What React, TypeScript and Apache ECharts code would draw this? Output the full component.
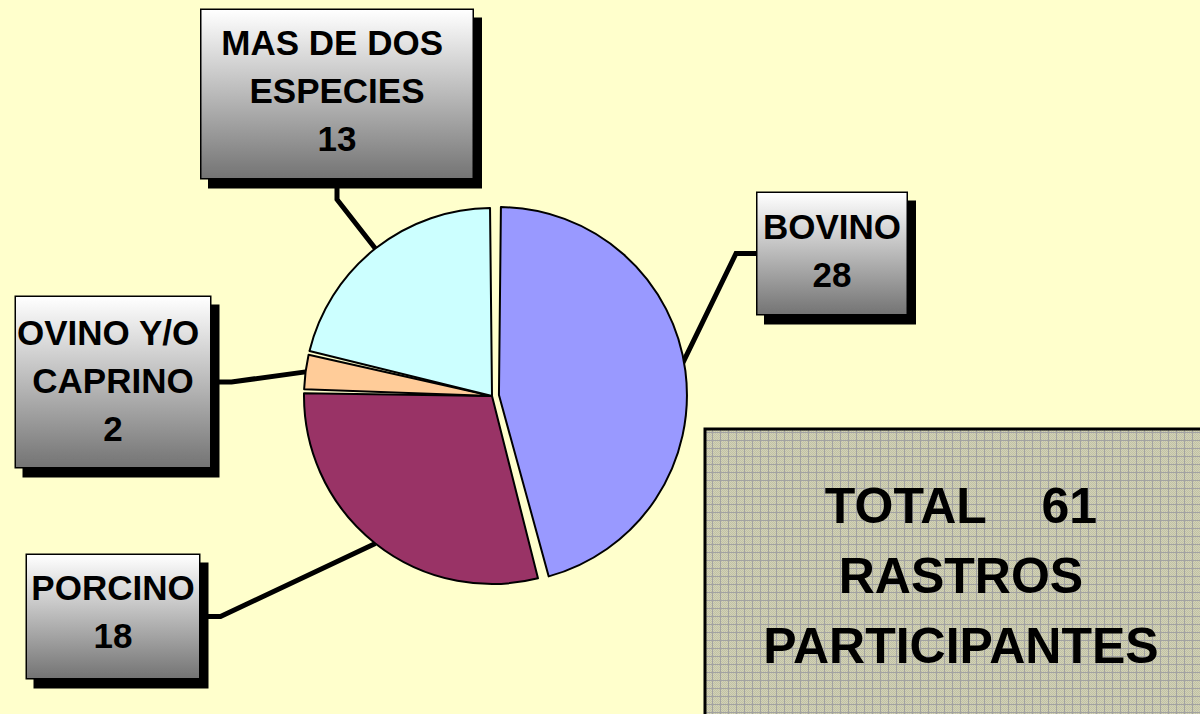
import React, { useEffect, useRef } from 'react';
import * as echarts from 'echarts';

const categories = ['BOVINO', 'PORCINO', 'OVINO Y/O CAPRINO', 'MAS DE DOS ESPECIES'];
const values = [28, 18, 2, 13];
const colors = ['#9999FF', '#993366', '#FFCC99', '#CCFFFF'];
const totalLines = ['TOTAL    {n}', 'RASTROS', 'PARTICIPANTES'];
const explodedIndex = 0;

// label box placement (center x, top y, box width, padding top / bottom)
const labelBoxes = [
  { cx: 832, top: 193, w: 149, pt: 9, pb: 16 },
  { cx: 113, top: 555, w: 172, pt: 8, pb: 19 },
  { cx: 113, top: 297, w: 194, pt: 11, pb: 15 },
  { cx: 337, top: 10, w: 271, pt: 8, pb: 16 },
];

const FONT = '"Liberation Sans", Arial, sans-serif';
const CENTER = [492, 396];
const RADIUS = 188;
const EXPLODE = 7;

function makePattern(): HTMLCanvasElement {
  const c = document.createElement('canvas');
  c.width = 8;
  c.height = 8;
  const ctx = c.getContext('2d')!;
  ctx.fillStyle = '#D2D2B6';
  ctx.fillRect(0, 0, 8, 8);
  for (let y = 0; y < 8; y++) {
    for (let x = 0; x < 8; x++) {
      if ((x + y) % 2 === 0) {
        ctx.fillStyle = '#C2C2A6';
        ctx.fillRect(x, y, 1, 1);
      }
    }
  }
  ctx.fillStyle = '#A2A2A2';
  ctx.fillRect(0, 0, 8, 1);
  ctx.fillRect(0, 0, 1, 8);
  return c;
}

export default function App() {
  const ref = useRef<HTMLDivElement>(null);
  useEffect(() => {
    document.body.style.margin = '0';
    const chart = echarts.init(ref.current!, null, { renderer: 'svg' });
    const gradient = new echarts.graphic.LinearGradient(0, 0, 0, 1, [
      { offset: 0, color: '#FFFFFF' },
      { offset: 1, color: '#747474' },
    ]);
    const total = values.reduce((a, b) => a + b, 0);
    const totalText = [totalLines[0].replace('{n}', String(total)), totalLines[1], totalLines[2]].join('\n');

    // mid-angle of the exploded slice (degrees clockwise from 12 o'clock)
    const before = values.slice(0, explodedIndex).reduce((a, b) => a + b, 0);
    const midDeg = ((before + values[explodedIndex] / 2) / total) * 360;
    const midRad = (midDeg * Math.PI) / 180;
    const explodedCenter = [
      CENTER[0] + Math.sin(midRad) * EXPLODE,
      CENTER[1] - Math.cos(midRad) * EXPLODE,
    ];

    const common = {
      type: 'pie',
      radius: RADIUS,
      startAngle: 90,
      clockwise: true,
      padAngle: 1.2,
      avoidLabelOverlap: false,
      emphasis: { disabled: true },
      itemStyle: { borderColor: '#000', borderWidth: 2 },
    };

    chart.setOption({
      animation: false,
      backgroundColor: '#FFFFCC',
      graphic: [
        {
          type: 'rect',
          shape: { x: 705, y: 429, width: 520, height: 300 },
          style: {
            fill: { image: makePattern(), repeat: 'repeat' } as any,
            stroke: '#000',
            lineWidth: 3,
          },
          z: 1,
        },
        {
          type: 'text',
          x: 961,
          y: 471,
          style: {
            text: totalText,
            fontFamily: FONT,
            fontWeight: 'bold',
            fontSize: 50,
            lineHeight: 70,
            fill: '#000',
            align: 'center',
            verticalAlign: 'top',
          },
          z: 2,
        },
      ],
      series: [
        {
          ...common,
          center: CENTER,
          label: {
            show: true,
            position: 'outside',
            formatter: '{b}\n{c}',
            fontFamily: FONT,
            fontWeight: 'bold',
            fontSize: 35,
            lineHeight: 48,
            color: '#000',
            align: 'center',
            overflow: 'break',
            backgroundColor: gradient,
            borderColor: '#000',
            borderWidth: 1.5,
            shadowColor: '#000',
            shadowBlur: 0.01,
            shadowOffsetX: 8,
            shadowOffsetY: 9,
          },
          labelLine: {
            show: true,
            length: 20,
            length2: 20,
            lineStyle: { color: '#000', width: 5 },
          },
          labelLayout: (p: any) => {
            const b = labelBoxes[p.dataIndex];
            return { x: b.cx, y: b.top, align: 'center', verticalAlign: 'top' };
          },
          data: categories.map((name, i) => ({
            name,
            value: values[i],
            itemStyle:
              i === explodedIndex
                ? { color: 'transparent', borderWidth: 0 }
                : { color: colors[i] },
            label: {
              width: labelBoxes[i].w,
              padding: [labelBoxes[i].pt, 0, labelBoxes[i].pb, 0],
            },
          })),
        },
        {
          ...common,
          center: explodedCenter,
          silent: true,
          label: { show: false },
          labelLine: { show: false },
          z: 3,
          data: categories.map((name, i) => ({
            name,
            value: values[i],
            itemStyle:
              i === explodedIndex
                ? { color: colors[i] }
                : { color: 'transparent', borderWidth: 0 },
          })),
        },
      ],
    });
    return () => chart.dispose();
  }, []);
  return <div ref={ref} style={{ width: 1200, height: 714 }} />;
}
